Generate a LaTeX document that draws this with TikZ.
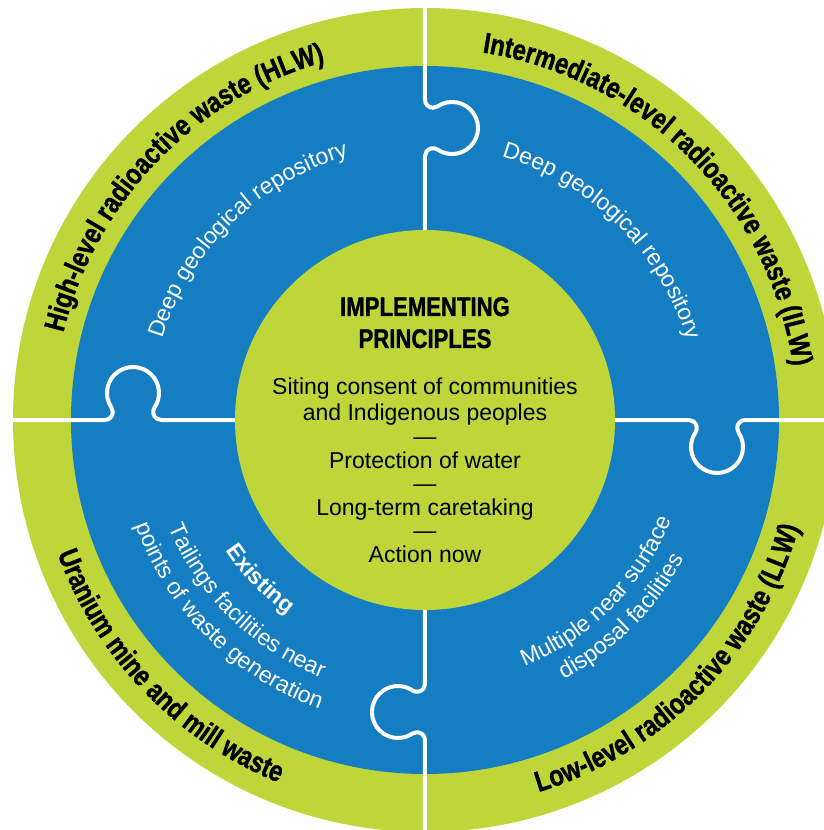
\documentclass[tikz,border=0pt]{standalone}
\usepackage{fontspec}
\setmainfont{Liberation Sans}
\newfontfamily\condfont[FakeStretch=0.82,FakeBold=1.2]{Liberation Sans}
\usetikzlibrary{decorations.text}
\definecolor{ringgreen}{RGB}{191,214,59}
\definecolor{puzzleblue}{RGB}{21,125,193}
\def\ringfont{\condfont\bfseries\fontsize{29}{29}\selectfont}
\def\innerfont{\fontsize{23}{26}\selectfont\color{white}}
\def\cwtext(#1:#2)#3{\path[decorate,decoration={text along path,text align=center,text={#3}}] (#1+50:#2) arc (#1+50:#1-50:#2);}
\def\ccwtext(#1:#2)#3{\path[decorate,decoration={text along path,text align=center,text={#3}}] (#1-50:#2) arc (#1-50:#1+50:#2);}
\tikzset{
	divider/.style={draw=white,line width=4pt,line join=round},
	heading/.style={anchor=base,font=\condfont\bfseries\fontsize{27}{27}\selectfont},
	principle/.style={anchor=base,font=\fontsize{23}{26}\selectfont}
}

\begin{document}
\begin{tikzpicture}[x=1pt,y=1pt]
		%%%%% START %%%%%
		
		\useasboundingbox (-425,-410) rectangle (399,420);
		\clip (-425,-410) rectangle (399,420);
		
		\fill[ringgreen] (0,0) circle (412);
		\fill[puzzleblue] (0,0) circle (354);
		
		\foreach \a in {0,90,180,270}
			\draw[divider,rotate=\a] (0,412) -- (0,320.2) arc[start angle=180,end angle=304,radius=8] arc[start angle=124,end angle=-124,radius=26] arc[start angle=56,end angle=180,radius=8] -- (0,190);
		
		\fill[ringgreen] (0,0) circle (190);
		
		\cwtext(136:372){|\ringfont|High-level radioactive waste (HLW)}
		\cwtext(44.7:372){|\ringfont|Intermediate-level radioactive waste (ILW)}
		\ccwtext(-44.5:389){|\ringfont|Low-level radioactive waste (LLW)}
		\ccwtext(224:391){|\ringfont|Uranium mine and mill waste}
		
		\cwtext(134.5:275){|\innerfont|Deep geological repository}
		\cwtext(45.3:274){|\innerfont|Deep geological repository}
		\ccwtext(-45:266){|\innerfont|Multiple near surface}
		\ccwtext(-45:294){|\innerfont|disposal facilities}
		\ccwtext(224:238){|\innerfont\bfseries|Existing}
		\ccwtext(225.5:278){|\innerfont|Tailings facilities near}
		\ccwtext(225:308){|\innerfont|points of waste generation}
		
		\node[heading] (implementing) at (0,104) {IMPLEMENTING};
		\node[heading] (principles) at (0,72) {PRINCIPLES};
		\foreach \y/\t [count=\i] in {26/Siting consent of communities, 0/and Indigenous peoples, -24/—, -48/Protection of water, -71/—, -95/Long-term caretaking, -118/—, -142/Action now}
			\node[principle] (line\i) at (0,\y) {\t};
		
		%%%%% END %%%%%
\end{tikzpicture}
\end{document}
